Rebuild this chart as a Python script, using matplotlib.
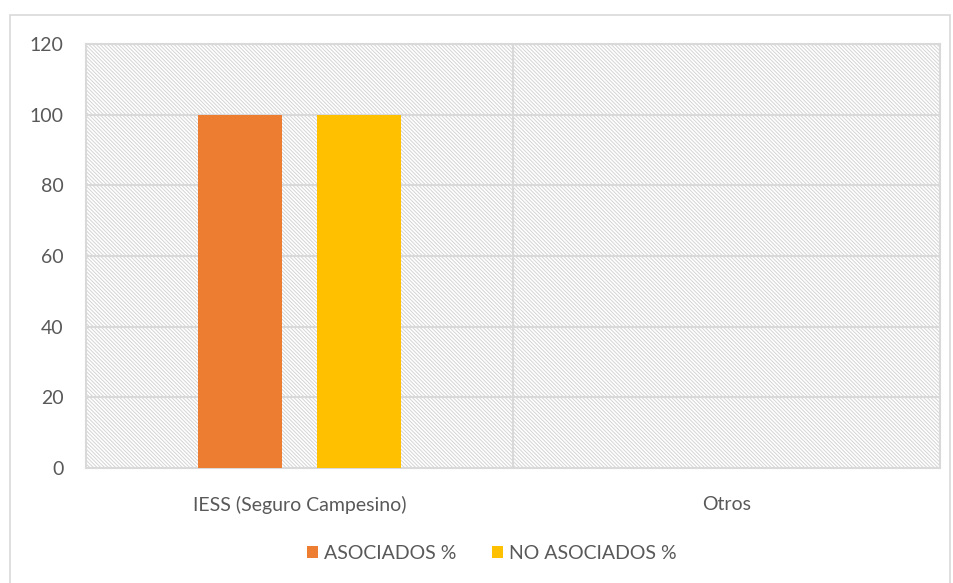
import matplotlib.pyplot as plt
import numpy as np
from matplotlib.patches import Rectangle

plt.rcParams['font.family'] = ['Lato', 'DejaVu Sans']
plt.rcParams['hatch.linewidth'] = 0.7
plt.rcParams['hatch.color'] = '#d4d4d4'

categories = ['IESS (Seguro Campesino)', 'Otros']
asociados = [100, 0]
no_asociados = [100, 0]
series_names = ['ASOCIADOS %', 'NO ASOCIADOS %']
colors = ['#ed7d31', '#ffc000']
yticks = [0, 20, 40, 60, 80, 100, 120]

fig = plt.figure(figsize=(9.54, 5.83), dpi=100)
# outer chart border (runs past the bottom edge)
fig.patches.append(Rectangle((10 / 954, -10 / 583), 940 / 954, 578 / 583, transform=fig.transFigure,
                             fill=False, edgecolor='#d9d9d9', linewidth=1.2))
ax = fig.add_axes([86 / 954, 115 / 583, 854 / 954, 424 / 583])

# hatched plot background
ax.add_patch(Rectangle((0, 0), 1, 1, transform=ax.transAxes, facecolor='white',
                       hatch='\\' * 9, edgecolor='#d4d4d4', linewidth=0, zorder=0))

x = np.arange(len(categories))
w = 0.197
ax.bar(x - 0.139, asociados, w, color=colors[0], label=series_names[0], zorder=3)
ax.bar(x + 0.139, no_asociados, w, color=colors[1], label=series_names[1], zorder=3)

ax.set_xlim(-0.5, 1.5)
ax.set_ylim(0, 120)
ax.set_yticks(yticks)
ax.set_xticks(x)
ax.set_xticklabels(categories)
for v in yticks[1:]:
    ax.axhline(v, color='#d9d9d9', linewidth=1.5, zorder=1)
ax.axvline(0.5, color='#d9d9d9', linewidth=1.5, zorder=1)

for s in ['top', 'right', 'left', 'bottom']:
    ax.spines[s].set_color('#d9d9d9')
    ax.spines[s].set_linewidth(1.5)
ax.tick_params(length=0, labelsize=14, labelcolor='#595959')
ax.tick_params(axis='y', pad=16)
ax.tick_params(axis='x', pad=20)

leg = ax.legend(loc='upper center', bbox_to_anchor=(0.475, -0.14), ncol=2, frameon=False,
                fontsize=14, handlelength=0.6, handleheight=0.6, handletextpad=0.3,
                columnspacing=1.8)
for t in leg.get_texts():
    t.set_color('#595959')

fig.savefig('out.png', dpi=100)
